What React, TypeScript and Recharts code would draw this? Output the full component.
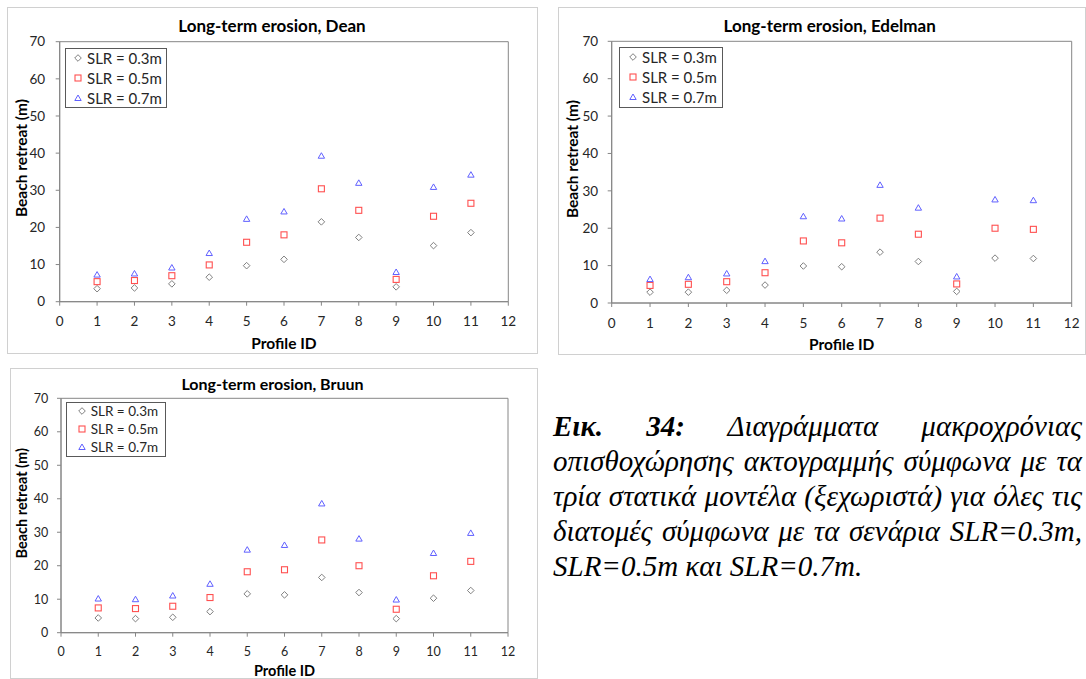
import React from 'react';
import { ScatterChart, Scatter, XAxis, YAxis, Legend, ReferenceArea } from 'recharts';

const profiles = [1, 2, 3, 4, 5, 6, 7, 8, 9, 10, 11];
const xTicks = [0, 1, 2, 3, 4, 5, 6, 7, 8, 9, 10, 11, 12];
const yTicks = [0, 10, 20, 30, 40, 50, 60, 70];
const seriesNames = ['SLR = 0.3m', 'SLR = 0.5m', 'SLR = 0.7m'];

const deanSlr03 = [3.5, 3.7, 4.8, 6.6, 9.7, 11.4, 21.5, 17.3, 4.0, 15.1, 18.6];
const deanSlr05 = [5.4, 5.7, 7.0, 9.9, 16.0, 18.0, 30.4, 24.6, 6.0, 23.0, 26.5];
const deanSlr07 = [7.3, 7.6, 9.2, 13.1, 22.3, 24.3, 39.3, 32.0, 8.0, 30.9, 34.2];

const edelmanSlr03 = [2.9, 2.9, 3.4, 4.8, 9.9, 9.7, 13.6, 11.1, 3.1, 12.0, 11.9];
const edelmanSlr05 = [4.7, 5.0, 5.7, 8.1, 16.6, 16.1, 22.7, 18.4, 5.1, 20.0, 19.7];
const edelmanSlr07 = [6.4, 6.9, 7.9, 11.2, 23.2, 22.6, 31.6, 25.5, 7.1, 27.7, 27.5];

const bruunSlr03 = [4.4, 4.2, 4.6, 6.3, 11.6, 11.3, 16.5, 12.0, 4.2, 10.3, 12.6];
const bruunSlr05 = [7.4, 7.2, 7.9, 10.5, 18.2, 18.8, 27.7, 20.0, 7.0, 17.0, 21.3];
const bruunSlr07 = [10.2, 10.0, 11.1, 14.6, 24.8, 26.2, 38.6, 28.1, 9.9, 23.8, 29.8];

const GRAY = '#7f7f7f';
const RED = '#ff5050';
const BLUE = '#6060ff';
const AXIS = '#868686';
const TEXT = '#262626';
const FONT = 'Lato, "Open Sans", sans-serif';
const SERIF = '"Liberation Serif", "DejaVu Serif", serif';
const Y_AXIS_W = 40;
const X_AXIS_H = 30;

const toPoints = (values: number[]) => values.map((v, i) => ({ x: profiles[i], y: v }));

// hollow Excel-style markers
const diamond = (cx: number, cy: number) => (
  <path d={`M${cx},${cy - 3.3}L${cx + 3.3},${cy}L${cx},${cy + 3.3}L${cx - 3.3},${cy}Z`} fill="none" stroke={GRAY} strokeWidth={1} />
);
const square = (cx: number, cy: number) => (
  <rect x={cx - 3} y={cy - 3} width={6} height={6} fill="none" stroke={RED} strokeWidth={1.1} />
);
const triangle = (cx: number, cy: number) => (
  <path d={`M${cx},${cy - 3}L${cx + 3.2},${cy + 2.5}L${cx - 3.2},${cy + 2.5}Z`} fill="none" stroke={BLUE} strokeWidth={1} />
);
const markers = [diamond, square, triangle];

type Box = { left: number; top: number; right: number; bottom: number };
type LegendBox = { left: number; top: number; width: number; height: number; row: number; markerX: number; textX: number; fontSize: number };

interface PanelProps {
  x: number; y: number; w: number; h: number;
  plot: Box;
  title: string; titleY: number; titleSize: number;
  yLabelX: number; yLabelY: number; xLabelY: number; labelSize: number;
  tickFont: number; xTickMargin: number; yTickMargin: number;
  legend: LegendBox;
  slr03: number[]; slr05: number[]; slr07: number[];
}

function Panel(p: PanelProps) {
  const margin = {
    top: p.plot.top - p.y,
    right: p.x + p.w - p.plot.right,
    bottom: p.y + p.h - p.plot.bottom - X_AXIS_H,
    left: p.plot.left - p.x - Y_AXIS_W,
  };
  const plotCx = (p.plot.left + p.plot.right) / 2 - p.x;
  const lg = p.legend;

  const renderLegend = () => (
    <div style={{ width: lg.width, height: lg.height, border: '1px solid #595959', boxSizing: 'border-box', background: '#fff', position: 'relative' }}>
      {seriesNames.map((name, i) => (
        <div key={name} style={{ position: 'absolute', left: 0, top: lg.row * i - 1, height: lg.row, width: '100%' }}>
          <svg width={10} height={10} style={{ position: 'absolute', left: lg.markerX - 5 - 1, top: lg.row / 2 - 5 }}>
            {markers[i](5, 5)}
          </svg>
          <span style={{ position: 'absolute', left: lg.textX - 1, top: 0, lineHeight: `${lg.row}px`, fontSize: lg.fontSize, color: TEXT, whiteSpace: 'nowrap' }}>{name}</span>
        </div>
      ))}
    </div>
  );

  const series = [p.slr03, p.slr05, p.slr07];

  return (
    <div style={{ position: 'absolute', left: p.x, top: p.y, width: p.w, height: p.h, outline: '1px solid #d0d0d0', outlineOffset: -1, background: '#fff' }}>
      <div style={{ position: 'absolute', left: 0, width: '100%', top: p.titleY - p.y - 12, height: 24, lineHeight: '24px', fontWeight: 700, fontSize: p.titleSize, color: '#000' }}>
        <span style={{ position: 'absolute', left: plotCx - 12, transform: 'translateX(-50%)', whiteSpace: 'nowrap' }}>{p.title}</span>
      </div>
      <ScatterChart width={p.w} height={p.h} margin={margin}>
        <XAxis
          type="number" dataKey="x" domain={[0, 12]} ticks={xTicks} interval={0} height={X_AXIS_H}
          axisLine={{ stroke: AXIS }} tickLine={{ stroke: AXIS }} tickSize={4} tickMargin={p.xTickMargin}
          tick={{ fontSize: p.tickFont, fill: TEXT }}
          label={() => (
            <text x={plotCx} y={p.xLabelY - p.y} textAnchor="middle" dominantBaseline="central" fontSize={p.labelSize} fontWeight={700} fill="#000">Profile ID</text>
          )}
        />
        <YAxis
          type="number" dataKey="y" domain={[0, 70]} ticks={yTicks} interval={0} width={Y_AXIS_W}
          axisLine={{ stroke: AXIS }} tickLine={{ stroke: AXIS }} tickSize={4} tickMargin={p.yTickMargin}
          tick={{ fontSize: p.tickFont, fill: TEXT }}
          label={() => {
            const lx = p.yLabelX - p.x;
            const ly = p.yLabelY - p.y;
            return (
              <text x={lx} y={ly} transform={`rotate(-90 ${lx} ${ly})`} textAnchor="middle" dominantBaseline="central" fontSize={p.labelSize} fontWeight={700} fill="#000">Beach retreat (m)</text>
            );
          }}
        />
        <ReferenceArea x1={0} x2={12} y1={0} y2={70} fill="none" stroke={AXIS} strokeWidth={1} ifOverflow="visible" />
        {series.map((vals, i) => (
          <Scatter
            key={seriesNames[i]}
            name={seriesNames[i]}
            data={toPoints(vals)}
            isAnimationActive={false}
            shape={(sp: any) => markers[i](sp.cx, sp.cy)}
          />
        ))}
        <Legend
          layout="vertical" align="center" verticalAlign="middle"
          content={renderLegend}
          wrapperStyle={{ left: lg.left - p.x, top: lg.top - p.y, width: lg.width, height: lg.height, margin: 0 }}
        />
      </ScatterChart>
    </div>
  );
}

const captionLines = [
  'οπισθοχώρησης ακτογραμμής σύμφωνα με τα',
  'τρία στατικά μοντέλα (ξεχωριστά) για όλες τις',
  'διατομές σύμφωνα με τα σενάρια SLR=0.3m,',
];

export default function App() {
  const lineStyle: React.CSSProperties = {
    height: 35, lineHeight: '35px', textAlign: 'justify', textAlignLast: 'justify', whiteSpace: 'nowrap',
  };
  return (
    <div style={{ position: 'absolute', left: 0, top: 0, width: 1086, height: 679, background: '#fff', overflow: 'hidden', fontFamily: FONT }}>
      <Panel
        x={7} y={7} w={531} h={347}
        plot={{ left: 59.7, top: 41.7, right: 508.3, bottom: 301.7 }}
        title="Long-term erosion, Dean" titleY={25.7} titleSize={17}
        yLabelX={21} yLabelY={158} xLabelY={342.7} labelSize={15.5}
        tickFont={13.5} xTickMargin={11} yTickMargin={10.5}
        legend={{ left: 65, top: 48, width: 102, height: 60, row: 20, markerX: 13, textX: 22, fontSize: 15 }}
        slr03={deanSlr03} slr05={deanSlr05} slr07={deanSlr07}
      />
      <Panel
        x={558} y={7} w={528} h={348}
        plot={{ left: 611.7, top: 41.3, right: 1071.7, bottom: 303 }}
        title="Long-term erosion, Edelman" titleY={25.7} titleSize={17}
        yLabelX={572} yLabelY={159} xLabelY={344} labelSize={15.5}
        tickFont={13.5} xTickMargin={11} yTickMargin={9.5}
        legend={{ left: 619, top: 47, width: 104, height: 61, row: 20, markerX: 13.5, textX: 23, fontSize: 15 }}
        slr03={edelmanSlr03} slr05={edelmanSlr05} slr07={edelmanSlr07}
      />
      <Panel
        x={10} y={368} w={528} h={311}
        plot={{ left: 61, top: 398.3, right: 508, bottom: 632.7 }}
        title="Long-term erosion, Bruun" titleY={384.3} titleSize={16}
        yLabelX={21.7} yLabelY={503.3} xLabelY={670} labelSize={14.5}
        tickFont={12.5} xTickMargin={10} yTickMargin={8.7}
        legend={{ left: 66, top: 402, width: 100, height: 55, row: 18, markerX: 16, textX: 24.7, fontSize: 13.5 }}
        slr03={bruunSlr03} slr05={bruunSlr05} slr07={bruunSlr07}
      />
      <div style={{ position: 'absolute', left: 553, top: 409, width: 529, fontFamily: SERIF, fontStyle: 'italic', fontSize: 29, color: '#000' }}>
        <div style={lineStyle}>
          <b>Εικ.</b> <b>34:</b> Διαγράμματα μακροχρόνιας
        </div>
        {captionLines.map((l) => (
          <div key={l} style={lineStyle}>{l}</div>
        ))}
        <div style={{ height: 35, lineHeight: '35px', whiteSpace: 'nowrap' }}>SLR=0.5m και SLR=0.7m.</div>
      </div>
    </div>
  );
}
